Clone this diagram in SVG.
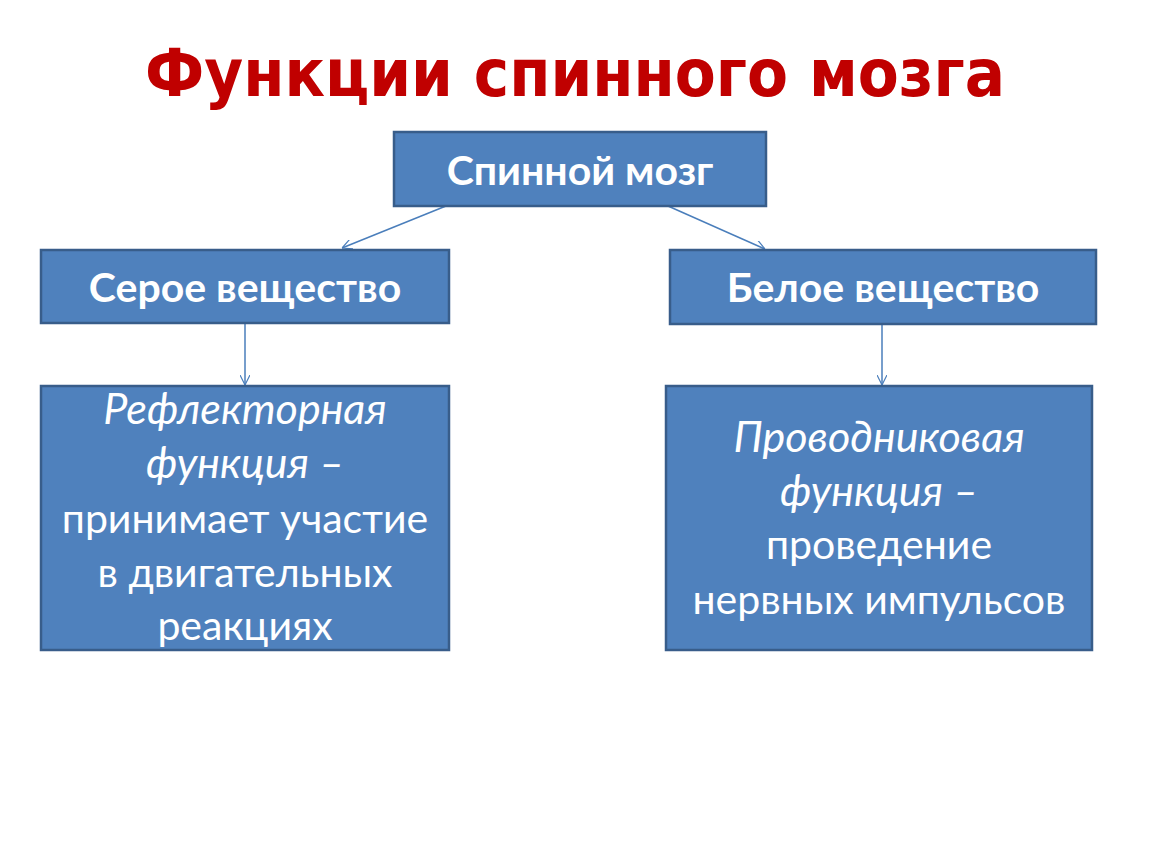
<svg xmlns="http://www.w3.org/2000/svg" width="1150" height="864" viewBox="0 0 1150 864">
<defs>
<style>
.box{fill:#4F81BD;stroke:#385D8A;stroke-width:2.5}
.hd{font-family:Lato,"Open Sans",sans-serif;font-weight:bold;font-size:41px;fill:#fff;text-anchor:middle}
.bd{font-family:Lato,"Open Sans",sans-serif;font-size:41px;fill:#fff;text-anchor:middle}
.it{font-style:italic;font-size:43px}
.con{stroke:#4A7EBB;stroke-width:1.5;fill:none;marker-end:url(#ar)}
</style>
<marker id="ar" viewBox="0 0 10 10" refX="10" refY="5" markerWidth="10" markerHeight="10" orient="auto" markerUnits="userSpaceOnUse">
<path d="M0,0 L10,5 L0,10" fill="none" stroke="#4A7EBB" stroke-width="1.2"/>
</marker>
</defs>
<rect width="1150" height="864" fill="#fff"/>
<text x="575" y="96" font-family="'DejaVu Sans',sans-serif" font-weight="bold" font-size="66" fill="#C00000" text-anchor="middle" textLength="860" lengthAdjust="spacingAndGlyphs">Функции спинного мозга</text>
<g id="connectors">
<line class="con" x1="446" y1="206" x2="342" y2="248"/>
<line class="con" x1="668" y1="206" x2="765" y2="249"/>
<line class="con" x1="245" y1="323" x2="245" y2="385"/>
<line class="con" x1="882" y1="324" x2="882" y2="385"/>
</g>
<g id="spinal">
<rect class="box" x="394" y="132" width="372" height="74"/>
<text class="hd" x="580" y="185">Спинной мозг</text>
</g>
<g id="grey">
<rect class="box" x="41" y="250" width="408" height="73"/>
<text class="hd" x="245" y="302">Серое вещество</text>
</g>
<g id="white">
<rect class="box" x="670" y="250" width="426" height="74"/>
<text class="hd" x="883" y="302">Белое вещество</text>
</g>
<g id="reflex">
<rect class="box" x="41" y="386" width="408" height="264"/>
<text class="bd" x="245" y="424"><tspan class="it">Рефлекторная</tspan><tspan class="it" x="245" dy="54">функция –</tspan><tspan x="245" dy="55">принимает участие</tspan><tspan x="245" dy="54">в двигательных</tspan><tspan x="245" dy="53">реакциях</tspan></text>
</g>
<g id="conduct">
<rect class="box" x="666" y="386" width="426" height="264"/>
<text class="bd" x="879" y="452"><tspan class="it">Проводниковая</tspan><tspan class="it" x="879" dy="54">функция –</tspan><tspan x="879" dy="53">проведение</tspan><tspan x="879" dy="55">нервных импульсов</tspan></text>
</g>
</svg>
